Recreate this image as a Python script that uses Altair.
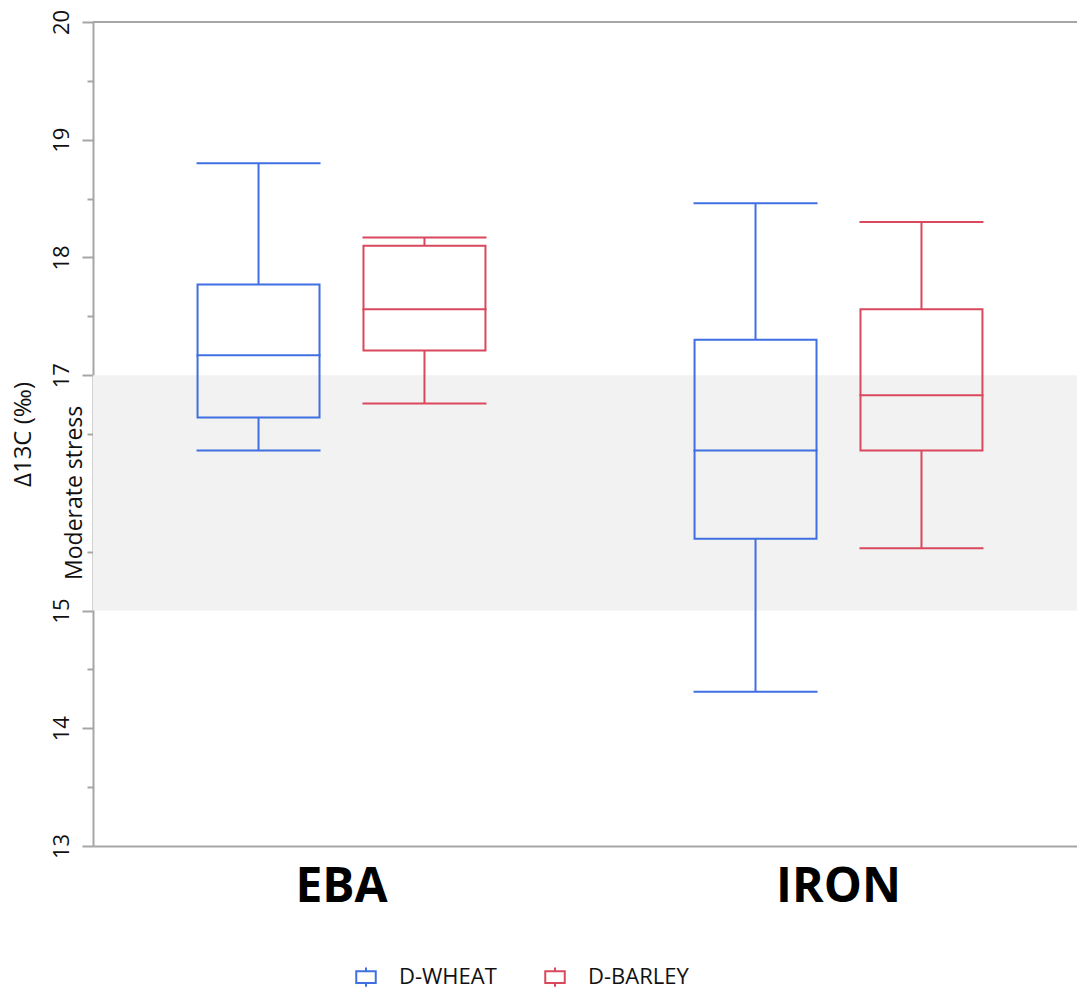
import altair as alt
import pandas as pd

periods = ["EBA", "EBA", "IRON", "IRON"]
series = ["D-WHEAT", "D-BARLEY", "D-WHEAT", "D-BARLEY"]
lower = [16.36, 16.76, 14.31, 15.53]
q1 = [16.64, 17.21, 15.61, 16.36]
median = [17.17, 17.56, 16.36, 16.83]
q3 = [17.77, 18.10, 17.30, 17.56]
upper = [18.80, 18.17, 18.46, 18.30]

series_order = ["D-WHEAT", "D-BARLEY"]
series_colors = ["#3f6fe0", "#d9485c"]
band_lo, band_hi = 15, 17
band_label = "Moderate stress"
y_title = "Δ13C (‰)"
y_tick_values = [13, 13.5, 14, 14.5, 15, 15.5, 16.5, 17, 17.5, 18, 18.5, 19, 19.5, 20]

df = pd.DataFrame({"period": periods, "series": series, "lower": lower,
                   "q1": q1, "median": median, "q3": q3, "upper": upper})
band_df = pd.DataFrame({"lo": [band_lo], "hi": [band_hi], "label": [band_label]})

FONT = "Open Sans"
AX = "#a6a6a6"

x_enc = alt.X("period:N", title=None,
              scale=alt.Scale(paddingInner=0, paddingOuter=0, range=[0, 994]),
              axis=alt.Axis(labelFontSize=48, labelFontWeight="bold", labelColor="#000",
                            labelPadding=17, ticks=False, domainColor=AX, domainWidth=2,
                            labelAngle=0, labelFont=FONT))
xo = alt.XOffset("series:N", sort=series_order,
                 scale=alt.Scale(paddingInner=0.265, paddingOuter=0.63))
legend = alt.Legend(title=None, orient="none", legendX=262, legendY=944, direction="horizontal",
                    symbolType="M-1,-0.6H1V0.6H-1Z M0,-0.6V-1 M0,0.6V1",
                    symbolSize=380, symbolStrokeWidth=2, symbolFillColor="transparent",
                    labelFontSize=22, labelFont=FONT, labelColor="#111", labelLimit=300,
                    labelOffset=22, columnPadding=44, padding=0)
col_scale = alt.Scale(domain=series_order, range=series_colors)
stroke = alt.Stroke("series:N", scale=col_scale, legend=legend)

y_axis = alt.Axis(values=y_tick_values,
                  labelExpr="datum.value % 1 === 0 ? format(datum.value, 'd') : ''",
                  tickSize={"expr": "datum.value % 1 === 0 ? 11 : 6"},
                  grid=False, domainColor=AX, domainWidth=2, tickColor=AX, tickWidth=2,
                  labelAngle=270, labelAlign="center", labelBaseline="bottom",
                  labelFontSize=22, labelColor="#111", labelPadding=9, labelFont=FONT,
                  titleFontSize=24, titleFontWeight="normal", titleColor="#111",
                  titleX=-70, titleY=412, titleBaseline="middle", titleAlign="center",
                  titleAngle=270, titleFont=FONT)
y_scale = alt.Scale(domain=[13, 20], nice=False, zero=False)

band = alt.Chart(band_df).mark_rect(color="#f2f2f2").encode(
    y=alt.Y("lo:Q", scale=y_scale, axis=y_axis, title=y_title), y2="hi:Q")
top = alt.Chart(band_df).mark_rule(color=AX, strokeWidth=2).encode(y=alt.datum(20))
label = alt.Chart(band_df).mark_text(angle=270, fontSize=23, font=FONT, color="#111",
                                     baseline="middle", align="center").encode(
    y=alt.datum(16), x=alt.value(-18), text="label:N")

base = alt.Chart(df)
whisk_lo = base.mark_rule(strokeWidth=2).encode(x=x_enc, xOffset=xo, y="lower:Q", y2="q1:Q", stroke=stroke)
whisk_hi = base.mark_rule(strokeWidth=2).encode(x=x_enc, xOffset=xo, y="q3:Q", y2="upper:Q", stroke=stroke)
box = base.mark_bar(fill="transparent", strokeWidth=2).encode(
    x=x_enc, xOffset=xo, y="q1:Q", y2="q3:Q", stroke=stroke)
tick_kw = dict(size=122, thickness=0.01, fill="transparent", strokeWidth=2, opacity=1)
med = base.mark_tick(**tick_kw).encode(x=x_enc, xOffset=xo, y="median:Q", stroke=stroke)
cap_lo = base.mark_tick(**tick_kw).encode(x=x_enc, xOffset=xo, y="lower:Q", stroke=stroke)
cap_hi = base.mark_tick(**tick_kw).encode(x=x_enc, xOffset=xo, y="upper:Q", stroke=stroke)

chart = alt.layer(band, top, whisk_lo, whisk_hi, box, med, cap_lo, cap_hi, label).properties(
    width=984, height=824,
    autosize=alt.AutoSizeParams(type="none"),
    padding={"left": 93, "top": 22, "right": 0, "bottom": 145},
).configure_view(strokeWidth=0)

chart.save("out.html", embed_options={"renderer": "svg", "actions": False})
